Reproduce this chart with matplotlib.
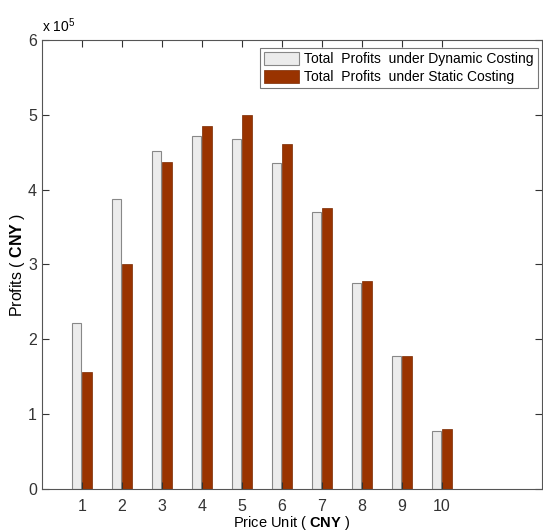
import numpy as np
from matplotlib import pyplot as plt

plt.rcParams['font.family'] = ['Liberation Sans', 'DejaVu Sans']
plt.rcParams['mathtext.fontset'] = 'custom'
plt.rcParams['mathtext.rm'] = 'Liberation Sans'
plt.rcParams['mathtext.bf'] = 'Liberation Sans:bold'

price = [1, 2, 3, 4, 5, 6, 7, 8, 9, 10]
dynamic = [2.22, 3.88, 4.52, 4.72, 4.67, 4.36, 3.70, 2.75, 1.78, 0.78]
static = [1.56, 3.00, 4.37, 4.85, 5.00, 4.61, 3.76, 2.78, 1.78, 0.80]
labels = ['Total  Profits  under Dynamic Costing', 'Total  Profits  under Static Costing']

x = np.array(price)
fig = plt.figure(figsize=(5.43, 5.31), dpi=100)
ax = fig.add_axes([0.077, 0.079, 0.921, 0.846])

ax.bar(x - 0.13, np.array(dynamic) * 1e5, width=0.24, color='#ececec',
       edgecolor='#888888', linewidth=0.8, label=labels[0])
ax.bar(x + 0.13, np.array(static) * 1e5, width=0.24, color='#993300',
       edgecolor='#7a2800', linewidth=0.5, label=labels[1])

ax.set_xlim(0, 12.5)
ax.set_ylim(0, 6e5)
ax.set_xticks(price)
ax.set_yticks(np.arange(0, 7) * 1e5)
ax.set_yticklabels([str(i) for i in range(7)])
ax.tick_params(direction='in', top=True, right=True, labelsize=11.5, length=5,
               colors='#333333')
ax.tick_params(axis='x', pad=7)
for s in ax.spines.values():
    s.set_color('#555555')

ax.text(0.0, 1.01, r'x 10$^{5}$', transform=ax.transAxes, fontsize=10, va='bottom', ha='left')
ax.set_xlabel(r'Price Unit ( $\mathbf{CNY}$ )', fontsize=10.5, labelpad=0)
ax.set_ylabel(r'Profits ( $\mathbf{CNY}$ )', fontsize=11.5, labelpad=1)

leg = ax.legend(loc='upper right', bbox_to_anchor=(0.992, 0.982), fontsize=10, fancybox=False,
                handlelength=2.5, handleheight=1.1, handletextpad=0.4, borderpad=0.3,
                labelspacing=0.25, borderaxespad=0)
leg.get_frame().set_edgecolor('#555555')
leg.get_frame().set_linewidth(0.8)

fig.savefig('out.png', dpi=100)
